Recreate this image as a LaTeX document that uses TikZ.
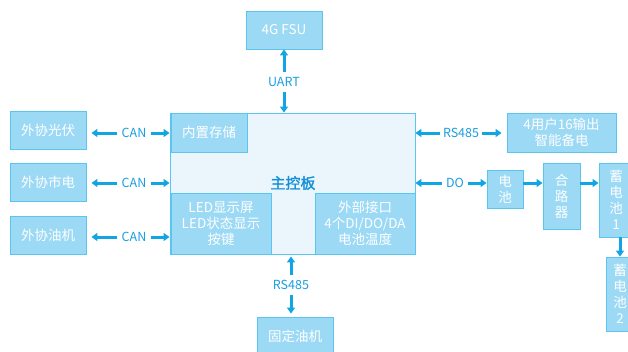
\documentclass[tikz,border=0pt]{standalone}
\usepackage{fontspec}
\setmainfont{Noto Sans CJK SC}
\newfontfamily\cjkbold[FakeBold=1.5]{Noto Sans CJK SC}
\usetikzlibrary{arrows.meta}
\definecolor{boxfill}{HTML}{9BD9F5}
\definecolor{boxline}{HTML}{5BC5F2}
\definecolor{mainfill}{HTML}{EAF6FC}
\definecolor{arrcol}{HTML}{12A5E3}
\definecolor{labcol}{HTML}{1A9FE0}
\definecolor{titcol}{HTML}{1890D8}
\tikzset{
  bx/.style={draw=boxline, fill=boxfill, text=white, line width=0.9pt, inner sep=0pt,
             align=center, font=\fontsize{13.5}{16}\selectfont},
  lab/.style={text=labcol, inner xsep=4pt, inner ysep=5pt, font=\fontsize{12.5}{14}\selectfont},
  arr/.style={draw=arrcol, line width=3pt, -{Triangle[length=6pt,width=8pt]}},
}
\begin{document}
\begin{tikzpicture}[x=1pt,y=-1pt]
\clip (0,0) rectangle (628,351);
\fill[white] (0,0) rectangle (628,351);
% main board
\node[draw=boxline, fill=mainfill, line width=0.9pt, minimum width=245pt, minimum height=141pt, inner sep=0pt] (main) at (292.5,183.5) {};
\node[text=titcol, font=\fontsize{15}{17}\selectfont\cjkbold] (title) at (293,183) {主控板};
\node[bx, minimum width=76pt, minimum height=39pt] (store) at (209,132.5) {内置存储};
\node[bx, minimum width=100pt, minimum height=61pt] (led) at (221,223.5) {LED显示屏\\LED状态显示\\按键};
\node[bx, minimum width=100pt, minimum height=61pt] (ext) at (365,223.5) {外部接口\\4个DI/DO/DA\\电池温度};
% top
\node[bx, minimum width=76pt, minimum height=38pt] (fsu) at (284,30) {4G FSU};
\node[lab] (uart) at (284,82) {UART};
\draw[arr] (uart.north) -- (fsu.south);
\draw[arr] (uart.south) -- (uart.south |- main.north);
% left
\node[bx, minimum width=76pt, minimum height=38pt] (pv) at (48,130) {外协光伏};
\node[bx, minimum width=76pt, minimum height=38pt] (grid) at (48,182) {外协市电};
\node[bx, minimum width=76pt, minimum height=38pt] (oil) at (48,235) {外协油机};
\node[lab] (can1) at (134,133) {CAN};
\node[lab] (can2) at (134,183) {CAN};
\node[lab] (can3) at (134,237) {CAN};
\foreach \c/\b in {can1/pv, can2/grid, can3/oil}{
  \draw[arr, shorten >=5pt] (\c.west) -- (\c.west -| \b.east);
  \draw[arr] (\c.east) -- (\c.east -| main.west);
}
% bottom
\node[lab] (rsb) at (291,285) {RS485};
\node[bx, minimum width=76pt, minimum height=38pt] (fix) at (295,336) {固定油机};
\draw[arr, shorten >=2pt] (rsb.north) -- (rsb.north |- main.south);
\draw[arr, shorten >=3pt] (rsb.south) -- (rsb.south |- fix.north);
% right
\node[lab, inner xsep=3pt] (rsr) at (461,133) {RS485};
\node[bx, minimum width=109pt, minimum height=39pt] (ups) at (561.5,132.5) {4用户16输出\\智能备电};
\draw[arr] (rsr.west) -- (rsr.west -| main.east);
\draw[arr, shorten >=5pt] (rsr.east) -- (rsr.east -| ups.west);
\node[lab] (do) at (455,183) {DO};
\node[bx, minimum width=36pt, minimum height=38pt] (bat) at (505,189) {电\\池};
\node[bx, minimum width=37pt, minimum height=66pt] (hub) at (561.5,196) {合\\路\\器};
\node[bx, minimum width=34pt, minimum height=74pt] (b1) at (616,200) {蓄\\电\\池\\1};
\node[bx, minimum width=28pt, minimum height=74pt] (b2) at (620,294) {蓄\\电\\池\\2};
\draw[arr] (do.west) -- (do.west -| main.east);
\draw[arr] (do.east) -- (do.east -| bat.west);
\draw[arr] (do.east -| bat.east) -- (do.east -| hub.west);
\draw[arr] (do.east -| hub.east) -- (do.east -| b1.west);
\draw[arr] (b1.south -| b2) -- (b2.north);
\end{tikzpicture}
\end{document}
